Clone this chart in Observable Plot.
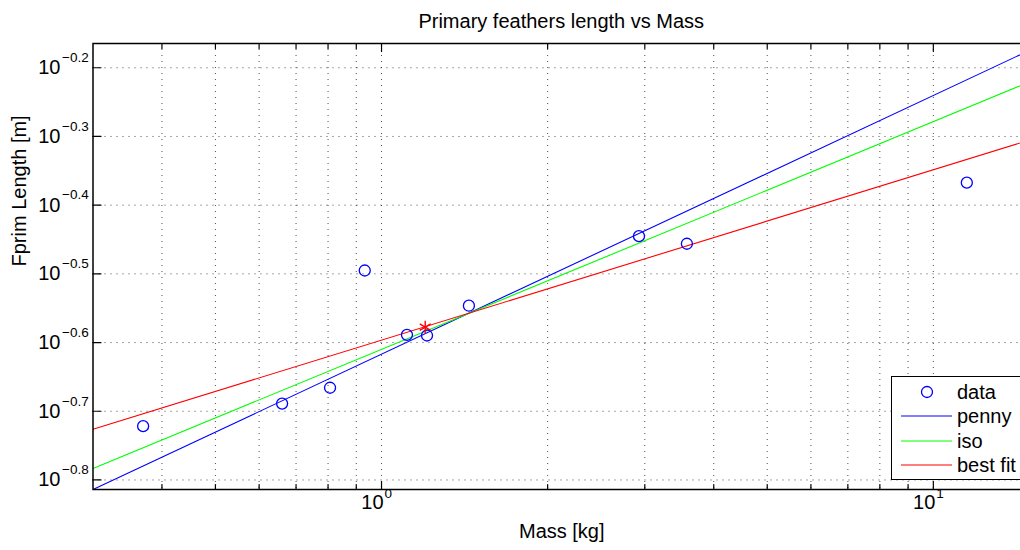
<!DOCTYPE html>
<html>
<head>
<meta charset="utf-8">
<script src="https://cdn.jsdelivr.net/npm/d3@7"></script>
<script src="https://cdn.jsdelivr.net/npm/@observablehq/plot@0.6"></script>
<style>
  html, body { margin: 0; padding: 0; overflow: hidden; background: #fff; }
  #wrap { position: relative; width: 1020px; height: 550px; overflow: hidden;
          font-family: "Liberation Sans", Arial, Helvetica, sans-serif; color: #000; }
  #chart { position: absolute; left: 0; top: 0; }
  #title { position: absolute; left: 92.5px; width: 937.5px; top: 11px; line-height: 20px;
           font-size: 20px; text-align: center; z-index: 2; }
  #legend { position: absolute; left: 891px; top: 376px; width: 200px; height: 104px;
            box-sizing: border-box; border: 1.5px solid #000; background: #fff; z-index: 2; }
  .item { position: absolute; left: 0; height: 24px; width: 200px; }
  .item svg { position: absolute; left: 0; top: 0; }
  .item span { position: absolute; left: 65px; top: 0; line-height: 24px; font-size: 20px; }
</style>
</head>
<body>
<div id="wrap">
  <div id="chart"></div>
  <div id="title"></div>
  <div id="legend"></div>
</div>
<script>
// ---- data ----
const titleText = "Primary feathers length vs Mass";
const xLabel = "Mass [kg]";
const yLabel = "Fprim Length [m]";

const massData   = [0.3698, 0.6604, 0.8067, 0.9324, 1.112, 1.209, 1.440, 2.928, 3.576, 11.50];
const lengthData = [0.1898, 0.2047, 0.2159, 0.3198, 0.2578, 0.2572, 0.2842, 0.3588, 0.3498, 0.4293];

const meanMass = [1.200];
const meanLength = [0.2645];

const fitMass       = [0.3, 15];
const pennyLength   = [0.1535, 0.6699];
const isoLength     = [0.1647, 0.6026];
const bestFitLength = [0.1879, 0.4956];

const xDomain = [0.3, 15];
const yDomain = [0.1535, 0.6844];

const xMajorTicks = [1, 10];
const xMajorExponents = ["0", "1"];
const xMinorTicks = [0.4, 0.5, 0.6, 0.7, 0.8, 0.9, 2, 3, 4, 5, 6, 7, 8, 9];
const yTickExponents = [-0.8, -0.7, -0.6, -0.5, -0.4, -0.3, -0.2];
const yTickLabels = ["\u22120.8", "\u22120.7", "\u22120.6", "\u22120.5", "\u22120.4", "\u22120.3", "\u22120.2"];

const legendLabels = ["data", "penny", "iso", "best fit"];
const seriesColors = ["#0000ff", "#0000ff", "#00ff00", "#ff0000"];

// ---- tables ----
const points = massData.map((m, i) => ({m, l: lengthData[i]}));
const meanPts = meanMass.map((m, i) => ({m, l: meanLength[i]}));
const mkLine = (ys) => fitMass.map((m, i) => ({m, l: ys[i]}));
const yTicks = yTickExponents.map((e, i) => ({v: Math.pow(10, e), lab: yTickLabels[i]}));
const xMaj = xMajorTicks.map((v, i) => ({v, lab: xMajorExponents[i]}));
const xAll = [...xMinorTicks, ...xMajorTicks];

const tickShape = { draw(context, l) { context.moveTo(0, 0); context.lineTo(0, -l); } };
const gridStyle = {stroke: "#222", strokeWidth: 1, strokeDasharray: "1,5", strokeOpacity: 0.8};

const chart = Plot.plot({
  width: 1030, height: 550,
  marginLeft: 92.5, marginRight: 0, marginTop: 43, marginBottom: 61,
  x: {type: "log", domain: xDomain, axis: null},
  y: {type: "log", domain: yDomain, axis: null},
  style: {maxWidth: "none", overflow: "visible", background: "white",
          fontFamily: "'Liberation Sans', Arial, Helvetica, sans-serif", color: "#000"},
  marks: [
    // grid
    Plot.ruleX(xAll, {x: d => d, ...gridStyle}),
    Plot.ruleY(yTicks, {y: "v", ...gridStyle}),
    // fitted lines
    Plot.line(mkLine(pennyLength), {x: "m", y: "l", stroke: seriesColors[1], strokeWidth: 1.1, clip: true}),
    Plot.line(mkLine(isoLength), {x: "m", y: "l", stroke: seriesColors[2], strokeWidth: 1.1, clip: true}),
    Plot.line(mkLine(bestFitLength), {x: "m", y: "l", stroke: seriesColors[3], strokeWidth: 1.1, clip: true}),
    // data
    Plot.dot(points, {x: "m", y: "l", r: 5.5, stroke: seriesColors[0], strokeWidth: 1.3, fill: "none"}),
    Plot.dot(meanPts, {x: "m", y: "l", r: 6, symbol: "asterisk", stroke: "#ff0000", strokeWidth: 1.4}),
    // frame
    Plot.frame({stroke: "#000", strokeWidth: 1.5}),
    // ticks (inward)
    Plot.vector(xMajorTicks, {x: d => d, frameAnchor: "bottom", anchor: "start", length: 8, shape: tickShape, stroke: "#000", strokeWidth: 1.2}),
    Plot.vector(xMinorTicks, {x: d => d, frameAnchor: "bottom", anchor: "start", length: 5, shape: tickShape, stroke: "#000", strokeWidth: 1.2}),
    Plot.vector(xMajorTicks, {x: d => d, frameAnchor: "top", anchor: "start", rotate: 180, length: 8, shape: tickShape, stroke: "#000", strokeWidth: 1.2}),
    Plot.vector(xMinorTicks, {x: d => d, frameAnchor: "top", anchor: "start", rotate: 180, length: 5, shape: tickShape, stroke: "#000", strokeWidth: 1.2}),
    Plot.vector(yTicks, {y: "v", frameAnchor: "left", anchor: "start", rotate: 90, length: 8, shape: tickShape, stroke: "#000", strokeWidth: 1.2}),
    // tick labels
    Plot.text(yTicks, {y: "v", frameAnchor: "left", text: () => "10", dx: -32.5, textAnchor: "end", fontSize: 20}),
    Plot.text(yTicks, {y: "v", frameAnchor: "left", text: "lab", dx: -31, dy: -10, textAnchor: "start", fontSize: 13.5}),
    Plot.text(xMaj, {x: "v", frameAnchor: "bottom", text: () => "10", dx: 2, dy: 19.5, textAnchor: "end", fontSize: 20}),
    Plot.text(xMaj, {x: "v", frameAnchor: "bottom", text: "lab", dx: 3, dy: 8.5, textAnchor: "start", fontSize: 13.5}),
    // axis labels
    Plot.text([xLabel], {frameAnchor: "bottom", text: d => d, dy: 48, fontSize: 20}),
    Plot.text([yLabel], {frameAnchor: "left", text: d => d, dx: -73.5, rotate: -90, fontSize: 20})
  ]
});
document.getElementById("chart").appendChild(chart);
document.getElementById("title").textContent = titleText;

// legend (HTML overlay)
const legend = document.getElementById("legend");
const rowTops = [3, 27, 52, 76];
legendLabels.forEach((lab, i) => {
  const row = document.createElement("div");
  row.className = "item";
  row.style.top = rowTops[i] + "px";
  const ns = "http://www.w3.org/2000/svg";
  const svg = document.createElementNS(ns, "svg");
  svg.setAttribute("width", "62"); svg.setAttribute("height", "24");
  if (i === 0) {
    const c = document.createElementNS(ns, "circle");
    c.setAttribute("cx", "35"); c.setAttribute("cy", "12"); c.setAttribute("r", "5.5");
    c.setAttribute("fill", "none"); c.setAttribute("stroke", seriesColors[i]); c.setAttribute("stroke-width", "1.3");
    svg.appendChild(c);
  } else {
    const l = document.createElementNS(ns, "line");
    l.setAttribute("x1", "9"); l.setAttribute("x2", "60"); l.setAttribute("y1", "12"); l.setAttribute("y2", "12");
    l.setAttribute("stroke", seriesColors[i]); l.setAttribute("stroke-width", "1.1");
    svg.appendChild(l);
  }
  row.appendChild(svg);
  const sp = document.createElement("span");
  sp.textContent = lab;
  row.appendChild(sp);
  legend.appendChild(row);
});
</script>
</body>
</html>
